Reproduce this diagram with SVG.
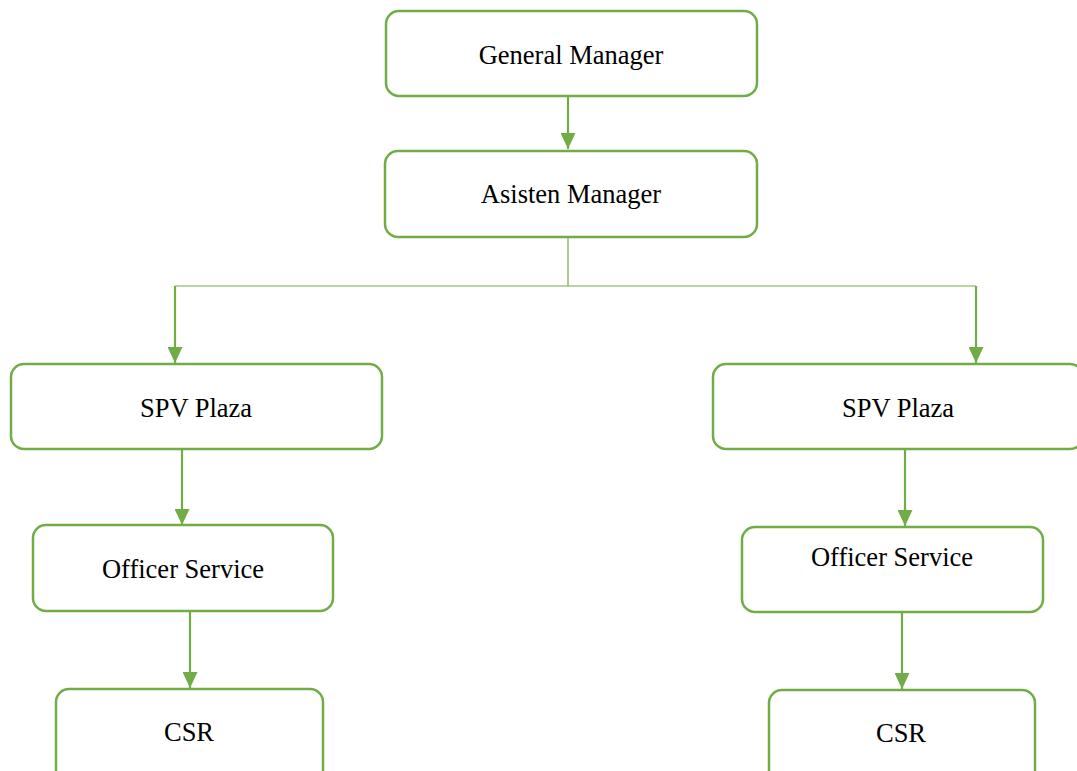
<svg xmlns="http://www.w3.org/2000/svg" width="1077" height="771" viewBox="0 0 1077 771">
<style>
.box{fill:#fff;stroke:#70AD47;stroke-width:2.5}
.lbl{font-family:"Liberation Serif","Times New Roman",serif;font-size:26.5px;fill:#000;text-anchor:middle}
.con{fill:none;stroke:#70AD47;stroke-width:2.2}
.thin{fill:none;stroke:#70AD47;stroke-width:1.2}
</style>
<defs>
<marker id="ah" viewBox="0 0 16 15" refX="16" refY="7.5" markerWidth="16" markerHeight="15" markerUnits="userSpaceOnUse" orient="auto">
<path d="M0,0 L16,7.5 L0,15 Z" fill="#70AD47"/>
</marker>
</defs>
<rect width="1077" height="771" fill="#fff"/>
<g id="connectors">
<line class="con" x1="568" y1="97" x2="568" y2="149" marker-end="url(#ah)"/>
<polyline class="thin" points="568,237 568,286"/>
<line class="thin" x1="175" y1="286" x2="976" y2="286"/>
<line class="con" x1="175" y1="286" x2="175" y2="363" marker-end="url(#ah)"/>
<line class="con" x1="976" y1="286" x2="976" y2="363" marker-end="url(#ah)"/>
<line class="con" x1="182" y1="449" x2="182" y2="525" marker-end="url(#ah)"/>
<line class="con" x1="905" y1="449" x2="905" y2="526" marker-end="url(#ah)"/>
<line class="con" x1="190" y1="611" x2="190" y2="688" marker-end="url(#ah)"/>
<line class="con" x1="902" y1="612" x2="902" y2="689" marker-end="url(#ah)"/>
</g>
<g id="general-manager">
<rect class="box" x="386" y="11" width="371" height="85" rx="13"/>
<text class="lbl" x="571" y="64">General Manager</text>
</g>
<g id="asisten-manager">
<rect class="box" x="385" y="151" width="372" height="86" rx="13"/>
<text class="lbl" x="571" y="203">Asisten Manager</text>
</g>
<g id="spv-plaza-left">
<rect class="box" x="11" y="364" width="371" height="85" rx="13"/>
<text class="lbl" x="196" y="417">SPV Plaza</text>
</g>
<g id="spv-plaza-right">
<rect class="box" x="713" y="364" width="370" height="85" rx="13"/>
<text class="lbl" x="898" y="417">SPV Plaza</text>
</g>
<g id="officer-service-left">
<rect class="box" x="33" y="525" width="300" height="86" rx="13"/>
<text class="lbl" x="183" y="578">Officer Service</text>
</g>
<g id="officer-service-right">
<rect class="box" x="742" y="527" width="301" height="85" rx="13"/>
<text class="lbl" x="892" y="566">Officer Service</text>
</g>
<g id="csr-left">
<rect class="box" x="56" y="689" width="267" height="100" rx="13"/>
<text class="lbl" x="189" y="741">CSR</text>
</g>
<g id="csr-right">
<rect class="box" x="769" y="690" width="266" height="100" rx="13"/>
<text class="lbl" x="901" y="742">CSR</text>
</g>
</svg>
